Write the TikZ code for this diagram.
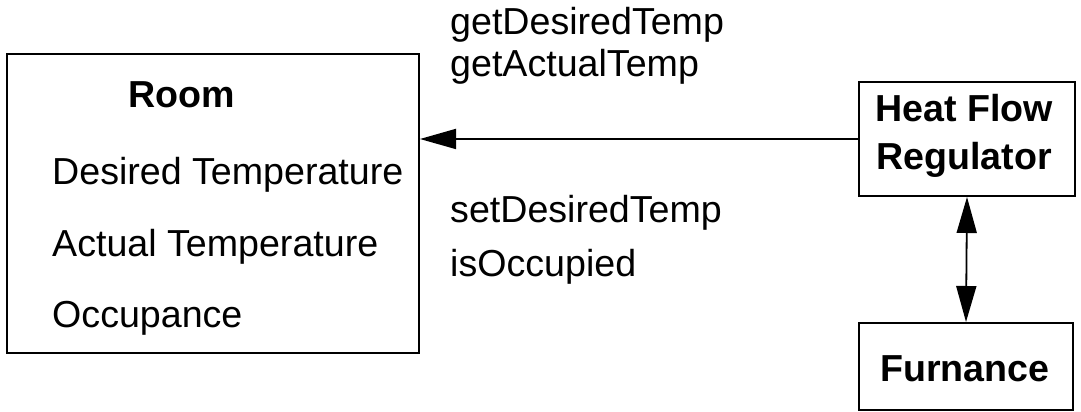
\documentclass[tikz,border=0pt]{standalone}
\usepackage{fontspec}
\setmainfont{Liberation Sans}
\usetikzlibrary{arrows.meta}
\begin{document}
\begin{tikzpicture}[x=1pt,y=1pt,
  box/.style={draw,line width=2pt,rectangle,inner sep=0pt},
  txt/.style={inner sep=0pt,anchor=base west,font=\fontsize{37.6}{44}\selectfont},
  btxt/.style={inner sep=0pt,anchor=base,font=\fontsize{37.6}{44}\selectfont\bfseries},
  conn/.style={line width=1.8pt},
  >={Triangle[length=36pt,width=20pt]}]
\useasboundingbox (0,0) rectangle (1081,412);
% Room class
\node[box,minimum width=412pt,minimum height=299pt] (room) at (213,208.5) {};
\node[btxt,anchor=base west] (roomname) at (128,304) {Room};
\node[txt] (attr1) at (52,227) {Desired Temperature};
\node[txt] (attr2) at (52,155) {Actual Temperature};
\node[txt] (attr3) at (52,84) {Occupance};
% Heat flow regulator
\node[box,minimum width=216pt,minimum height=114pt] (hfr) at (967,273) {};
\node[btxt] (hfr1) at (964,290) {Heat Flow};
\node[btxt] (hfr2) at (964,242) {Regulator};
% Furnance
\node[box,minimum width=214pt,minimum height=87pt] (furn) at (966,45.5) {};
\node[btxt] (furn1) at (965,30) {Furnance};
% Messages
\node[txt] (m1) at (450,377) {getDesiredTemp};
\node[txt] (m2) at (450,335) {getActualTemp};
\node[txt] (m3) at (450,189) {setDesiredTemp};
\node[txt] (m4) at (450,135) {isOccupied};
% Connectors
\draw[conn,->] (hfr.west) -- (hfr.west -| room.east);
\draw[conn,<->] (hfr.south) -- (furn.north);
\end{tikzpicture}
\end{document}
